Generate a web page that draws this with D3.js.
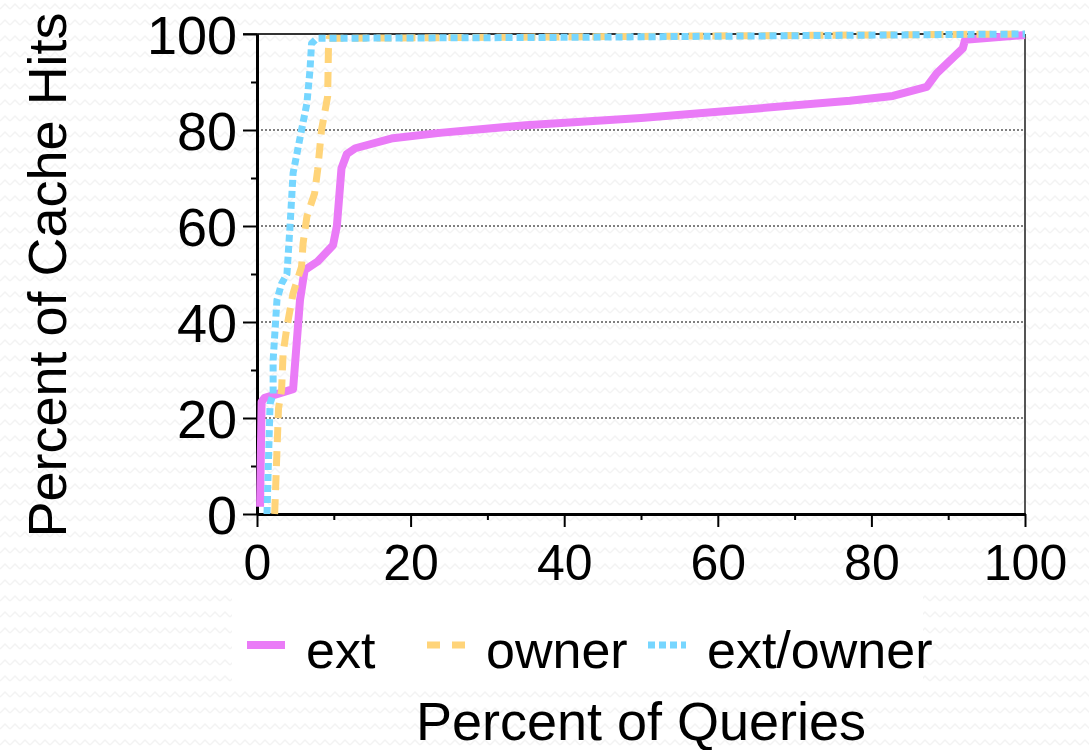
<!DOCTYPE html>
<html lang="en">
<head>
<meta charset="UTF-8">
<title>Cache hits</title>
<style>
  html, body { margin: 0; padding: 0; background: #fff; }
  svg text { font-family: "Liberation Sans", Arial, Helvetica, sans-serif; fill: #000; }
</style>
</head>
<body>
<svg id="chart" width="1089" height="750"></svg>
<script src="https://d3js.org/d3.v7.min.js"></script>
<script>
// series: [percent of queries, percent of cache hits]
var extData = [[0.4,1.5],[0.6,23.4],[1,24.2],[4.7,26],[5.6,44.6],[6.2,50.8],[7.9,52.6],[9.9,56],
  [10.4,60],[11,72],[11.7,75],[12.8,76.2],[17.7,78.3],[23.8,79.4],[35,81],[50,82.5],[60,83.8],
  [77.2,86.1],[82.8,87.1],[87.2,89],[88.5,91.8],[91.9,97],[92.2,98.8],[100,99.8]];
var ownerData = [[2.3,0],[2.8,22],[3.2,25.8],[3.4,33.5],[3.9,39],[4.7,46],[5.8,51.5],[6,56.4],
  [6.5,62],[7.5,66.8],[7.9,71.7],[8.4,80],[9.2,87],[9.3,96.7],[9.4,99.1],[40,99.4],[100,100]];
var extOwnerData = [[1.3,0],[1.7,23],[2.1,25],[2.1,32],[2.6,44.6],[3.2,48],[3.9,50],[4.3,60],
  [4.7,71],[5.8,80],[6.5,85.6],[6.9,92.5],[7.1,98],[7.8,99.1],[40,99.3],[100,100]];

var seriesNames = ["ext", "owner", "ext/owner"];
var xTicks = [0, 20, 40, 60, 80, 100];
var yTicks = [0, 20, 40, 60, 80, 100];
var minorTicks = [10, 30, 50, 70, 90];
var gridTicks = [20, 40, 60, 80];

var svg = d3.select("#chart");

// faint zigzag paper texture
var defs = svg.append("defs");
var pat = defs.append("pattern")
  .attr("id", "zig").attr("width", 10).attr("height", 16)
  .attr("patternUnits", "userSpaceOnUse");
pat.append("path")
  .attr("d", "M0,9 L5,4 L10,9")
  .attr("fill", "none").attr("stroke", "#f3f3f3").attr("stroke-width", 1.5);
svg.append("rect").attr("width", 1089).attr("height", 750).attr("fill", "url(#zig)");

var plotLeft = 257, plotRight = 1025, plotTop = 34, plotBottom = 514;
var x = d3.scaleLinear().domain([0, 100]).range([plotLeft, plotRight]);
var y = d3.scaleLinear().domain([0, 100]).range([plotBottom, plotTop]);

// dotted grid
svg.append("g").selectAll("line").data(gridTicks).enter().append("line")
  .attr("x1", plotLeft).attr("x2", plotRight)
  .attr("y1", function(d) { return y(d); }).attr("y2", function(d) { return y(d); })
  .attr("stroke", "#000").attr("stroke-width", 1).attr("stroke-dasharray", "2,2");

// frame: top and right
svg.append("line").attr("x1", plotLeft - 14).attr("x2", plotRight).attr("y1", plotTop).attr("y2", plotTop)
  .attr("stroke", "#333").attr("stroke-width", 2);
svg.append("line").attr("x1", plotRight).attr("x2", plotRight).attr("y1", plotTop).attr("y2", plotBottom)
  .attr("stroke", "#555").attr("stroke-width", 2);

// axes
var yAxis = d3.axisLeft(y).tickValues(yTicks).tickSize(14).tickPadding(6).tickSizeOuter(0);
var gy = svg.append("g").attr("transform", "translate(" + plotLeft + ",0)").call(yAxis);
gy.selectAll("text").style("font-size", "54px").attr("dy", "0.36em");

var xAxis = d3.axisBottom(x).tickValues(xTicks).tickSize(13).tickPadding(8).tickSizeOuter(0);
var gx = svg.append("g").attr("transform", "translate(0," + plotBottom + ")").call(xAxis);
gx.selectAll("text").style("font-size", "50px").attr("dy", "0.9em");

svg.append("g").attr("transform", "translate(" + plotLeft + ",0)")
  .call(d3.axisLeft(y).tickValues(minorTicks).tickSize(6).tickSizeOuter(0).tickFormat(""));
svg.append("g").attr("transform", "translate(0," + plotBottom + ")")
  .call(d3.axisBottom(x).tickValues(minorTicks).tickSize(6).tickSizeOuter(0).tickFormat(""));

svg.selectAll(".domain").attr("stroke-width", 3).attr("stroke", "#000");
svg.selectAll(".tick line").attr("stroke-width", 2).attr("stroke", "#000");

// series lines
var line = d3.line().x(function(d) { return x(d[0]); }).y(function(d) { return y(d[1]); });
var styles = [
  { data: extData, color: "#EA7BF7", width: 8, dash: null },
  { data: ownerData, color: "#FFD479", width: 7, dash: "15,9" },
  { data: extOwnerData, color: "#76D6FF", width: 7, dash: "7,4" }
];
styles.forEach(function(s) {
  svg.append("path").datum(s.data)
    .attr("d", line)
    .attr("fill", "none")
    .attr("stroke", s.color)
    .attr("stroke-width", s.width)
    .attr("stroke-linejoin", "round")
    .attr("stroke-dasharray", s.dash);
});

// axis titles
svg.append("text").attr("x", 641).attr("y", 740).attr("text-anchor", "middle")
  .style("font-size", "54px").text("Percent of Queries");
svg.append("text").attr("transform", "translate(66,275) rotate(-90)").attr("text-anchor", "middle")
  .style("font-size", "54px").text("Percent of Cache Hits");

// legend
var legend = svg.append("g");
legend.append("rect").attr("x", 232).attr("y", 595).attr("width", 691).attr("height", 87).attr("fill", "#fff");
var legX = [247, 427, 648];
seriesNames.forEach(function(name, i) {
  var s = styles[i];
  legend.append("line")
    .attr("x1", legX[i]).attr("x2", legX[i] + 38)
    .attr("y1", 645).attr("y2", 645)
    .attr("stroke", s.color).attr("stroke-width", s.width)
    .attr("stroke-dasharray", i === 1 ? "13,12" : s.dash);
  legend.append("text").attr("x", legX[i] + 59).attr("y", 668)
    .style("font-size", "52px").text(name);
});
</script>
</body>
</html>
